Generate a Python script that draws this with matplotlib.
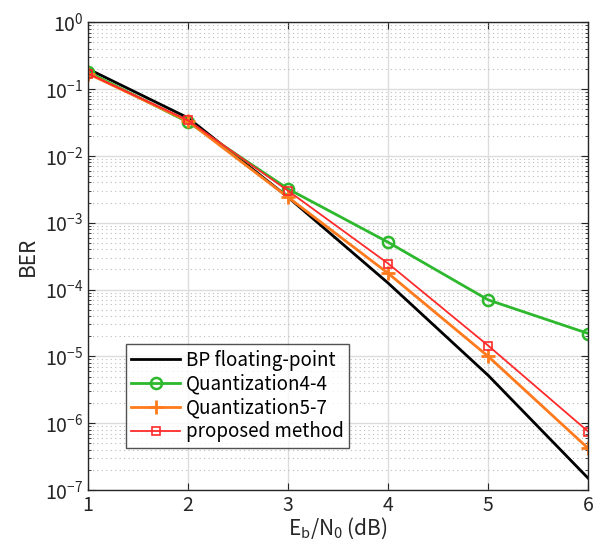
import matplotlib
matplotlib.use("Agg")
import matplotlib.pyplot as plt
from matplotlib.ticker import LogLocator, NullFormatter

plt.rcParams['font.family'] = ['Noto Sans CJK JP', 'DejaVu Sans']
plt.rcParams['mathtext.fontset'] = 'custom'
plt.rcParams['mathtext.rm'] = 'Noto Sans CJK JP'

ebn0 = [1, 2, 3, 4, 5, 6]
bp_float = [0.20, 0.037, 2.4e-3, 1.25e-4, 5.2e-6, 1.5e-7]
quant44 = [0.18, 0.032, 3.2e-3, 5.1e-4, 7.0e-5, 2.2e-5]
quant57 = [0.17, 0.033, 2.4e-3, 1.75e-4, 1.0e-5, 4.2e-7]
proposed = [0.17, 0.034, 3.0e-3, 2.45e-4, 1.45e-5, 7.5e-7]
labels = ['BP floating-point', 'Quantization4-4', 'Quantization5-7', 'proposed method']

fig = plt.figure(figsize=(5.99, 5.55), dpi=100)
ax = fig.add_axes([0.147, 0.117, 0.835, 0.843])

ax.semilogy(ebn0, bp_float, color='black', lw=2.0, label=labels[0])
ax.semilogy(ebn0, quant44, color='#2DB82D', lw=2.0, marker='o', ms=8,
            mfc='none', mew=1.8, label=labels[1])
ax.semilogy(ebn0, quant57, color='#FF7A1C', lw=2.0, marker='+', ms=10,
            mew=2.0, label=labels[2])
ax.semilogy(ebn0, proposed, color='#FF2A2A', lw=1.3, marker='s', ms=6,
            mfc='none', mew=1.2, label=labels[3])

ax.set_xlim(1, 6)
ax.set_ylim(1e-7, 1)
ax.set_xticks([1, 2, 3, 4, 5, 6])
ax.yaxis.set_major_locator(LogLocator(base=10, numticks=10))
ax.yaxis.set_minor_locator(LogLocator(base=10, subs=range(2, 10), numticks=100))
ax.yaxis.set_minor_formatter(NullFormatter())

ax.grid(True, which='major', color='#DCDCDC', lw=1.0, ls='-')
ax.grid(True, which='minor', axis='y', color='#BBBBBB', lw=0.8, ls=(0, (1, 3)))
ax.set_axisbelow(True)

ax.tick_params(which='both', direction='in', top=True, right=True, labelsize=14, colors='#262626')
ax.tick_params(which='major', length=5)
ax.tick_params(which='minor', length=2.5)
for s in ax.spines.values():
    s.set_color('#262626')
    s.set_linewidth(1.0)

ax.set_xlabel(r'E$_\mathregular{b}$/N$_\mathregular{0}$ (dB)', fontsize=15, color='#262626', labelpad=0)
ax.set_ylabel('BER', fontsize=15, color='#262626', labelpad=4)

leg = ax.legend(loc='lower left', bbox_to_anchor=(0.075, 0.09), fontsize=13.5,
                frameon=True, fancybox=False, edgecolor='#262626',
                handlelength=2.6, handletextpad=0.3, borderpad=0.3, labelspacing=0.15,
                borderaxespad=0)
leg.get_frame().set_linewidth(1.0)

fig.savefig('out.png', dpi=100)
